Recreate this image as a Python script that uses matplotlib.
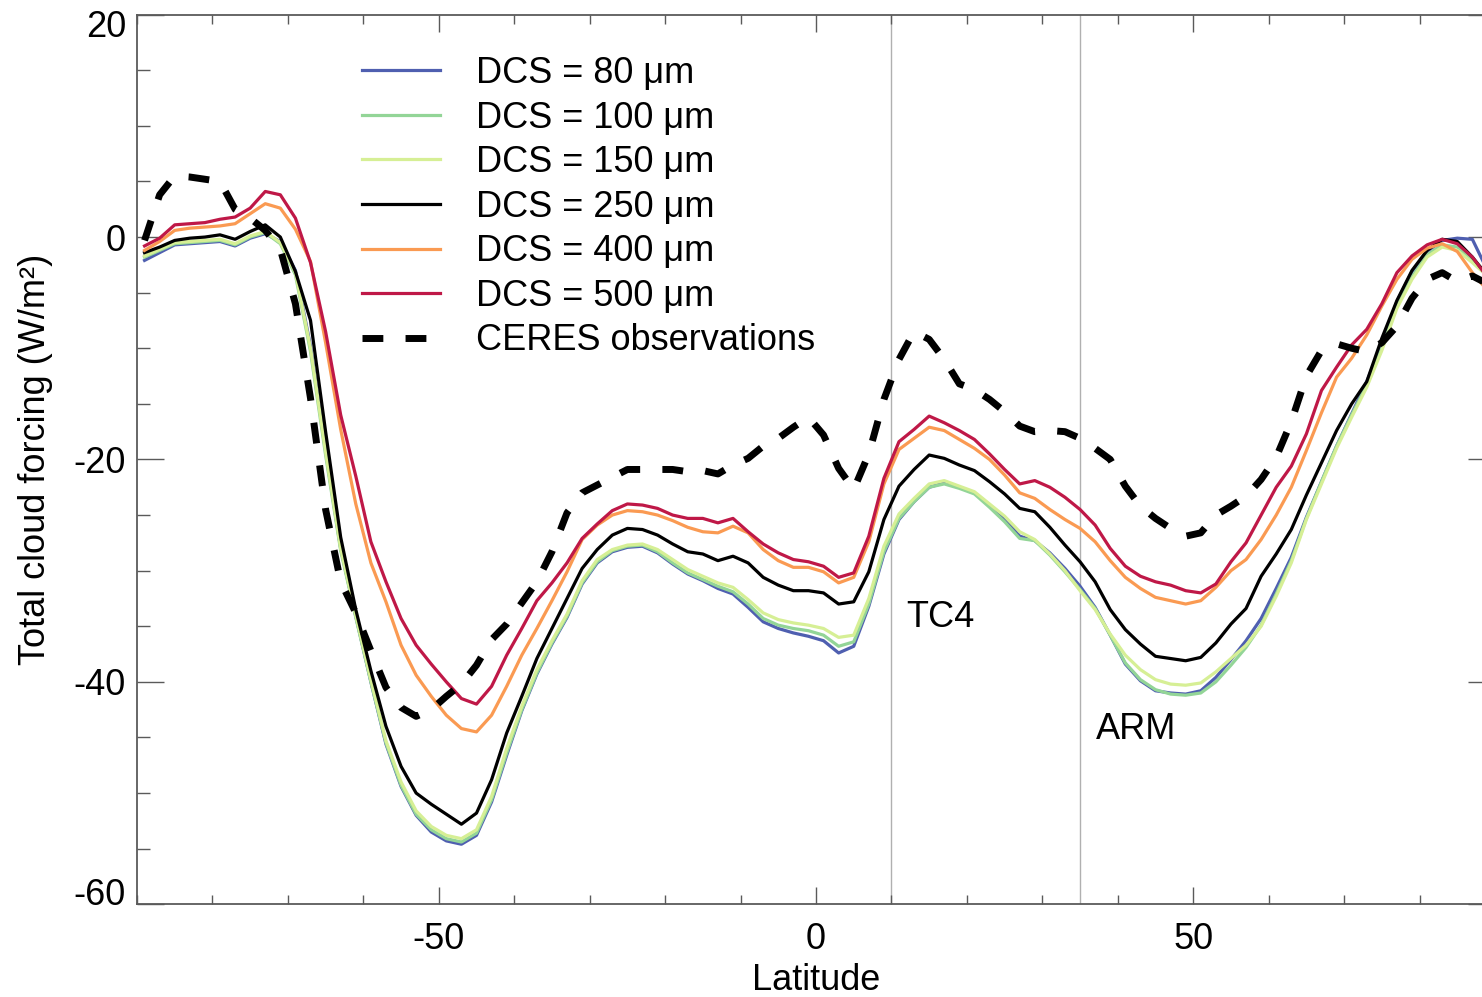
import numpy as np
import matplotlib
matplotlib.use('Agg')
import matplotlib.pyplot as plt
from matplotlib.ticker import MultipleLocator, FixedFormatter, FixedLocator

plt.rcParams['font.family'] = ['Liberation Sans', 'DejaVu Sans']
plt.rcParams['axes.unicode_minus'] = False

# latitude grid of the model output (2 degree steps)
lat = np.arange(-89, 90, 2)

dcs80 = [-2.1, -1.4, -0.7, -0.6, -0.5, -0.4, -0.8, -0.1, 0.3, -0.4,
         -3.0, -9.8, -19.2, -28.0, -34.1, -40.0, -45.6, -49.4, -52.0, -53.5,
         -54.3, -54.6, -53.8, -50.8, -46.6, -42.6, -39.3, -36.6, -34.2, -31.2,
         -29.3, -28.3, -27.9, -27.8, -28.4, -29.4, -30.3, -30.9, -31.6, -32.1,
         -33.3, -34.6, -35.2, -35.6, -35.9, -36.3, -37.4, -36.8, -33.2, -28.5,
         -25.4, -23.8, -22.5, -22.1, -22.5, -23.0, -24.1, -25.3, -26.9, -27.3,
         -28.4, -29.8, -31.4, -33.3, -35.8, -38.4, -39.9, -40.8, -41.0, -41.1,
         -40.8, -39.6, -38.0, -36.3, -34.3, -31.6, -28.8, -25.2, -22.0, -18.8,
         -15.9, -13.0, -9.6, -5.8, -3.1, -1.3, -0.3, -0.1, -0.2, -3.0]

dcs100 = [-1.8, -1.2, -0.6, -0.5, -0.4, -0.3, -0.7, 0.0, 0.4, -0.6,
          -3.4, -10.3, -19.6, -28.2, -34.2, -40.0, -45.5, -49.3, -51.9, -53.3,
          -54.1, -54.4, -53.6, -50.6, -46.4, -42.5, -39.2, -36.5, -34.1, -31.1,
          -29.2, -28.2, -27.8, -27.7, -28.3, -29.3, -30.2, -30.8, -31.4, -31.9,
          -33.0, -34.3, -34.9, -35.2, -35.4, -35.8, -36.8, -36.4, -33.0, -28.3,
          -25.3, -23.8, -22.5, -22.2, -22.6, -23.1, -24.3, -25.6, -27.1, -27.3,
          -28.6, -30.1, -31.7, -33.4, -35.8, -38.3, -39.8, -40.7, -41.1, -41.2,
          -41.0, -40.0, -38.5, -36.9, -34.9, -32.1, -29.1, -25.3, -22.0, -18.8,
          -16.0, -13.3, -10.0, -6.2, -3.6, -1.6, -0.7, -0.9, -2.0, -3.3]

dcs150 = [-1.7, -1.1, -0.5, -0.4, -0.3, -0.2, -0.6, 0.1, 0.5, -0.5,
          -3.2, -10.0, -19.3, -28.0, -34.0, -39.8, -45.3, -49.0, -51.6, -53.0,
          -53.8, -54.1, -53.3, -50.3, -46.0, -42.2, -38.9, -36.3, -33.9, -30.9,
          -29.0, -28.1, -27.7, -27.6, -28.1, -29.0, -29.9, -30.5, -31.1, -31.5,
          -32.6, -33.8, -34.4, -34.7, -34.9, -35.2, -36.0, -35.8, -32.5, -27.8,
          -24.9, -23.5, -22.2, -21.9, -22.4, -22.9, -24.0, -25.1, -26.5, -27.2,
          -28.5, -30.0, -31.8, -33.5, -35.7, -37.6, -38.9, -39.8, -40.2, -40.3,
          -40.1, -39.1, -37.9, -36.7, -35.0, -32.3, -29.3, -25.4, -22.2, -19.0,
          -16.2, -13.5, -10.2, -6.4, -3.8, -1.8, -0.9, -1.2, -2.3, -3.5]

dcs250 = [-1.4, -0.9, -0.3, -0.1, 0.0, 0.2, -0.2, 0.5, 1.1, 0.0,
          -3.1, -7.5, -17.5, -27.0, -33.5, -39.0, -44.0, -47.6, -50.0, -51.0,
          -51.9, -52.8, -51.8, -48.8, -44.6, -41.3, -37.9, -35.2, -32.5, -29.8,
          -28.1, -26.8, -26.2, -26.3, -26.8, -27.6, -28.3, -28.5, -29.1, -28.7,
          -29.3, -30.6, -31.3, -31.8, -31.8, -32.0, -33.0, -32.8, -30.1, -25.4,
          -22.4, -20.9, -19.6, -19.9, -20.5, -21.0, -22.0, -23.1, -24.4, -24.7,
          -26.1, -27.7, -29.2, -31.0, -33.5, -35.3, -36.6, -37.7, -37.9, -38.1,
          -37.8, -36.5, -34.8, -33.4, -30.5, -28.5, -26.3, -23.2, -20.3, -17.4,
          -15.0, -13.0, -9.1, -5.7, -3.0, -1.2, -0.2, -0.4, -1.8, -3.5]

dcs400 = [-1.2, -0.4, 0.6, 0.8, 0.9, 1.0, 1.2, 2.1, 3.0, 2.6,
          0.7, -2.2, -9.5, -17.3, -24.0, -29.3, -32.8, -36.7, -39.4, -41.3,
          -43.0, -44.2, -44.5, -43.0, -40.4, -37.6, -35.2, -32.7, -30.1, -27.2,
          -25.9, -25.0, -24.6, -24.7, -25.0, -25.5, -26.1, -26.5, -26.6, -26.0,
          -26.6, -28.1, -29.1, -29.7, -29.7, -30.1, -31.1, -30.6, -27.4, -22.2,
          -19.1, -18.1, -17.1, -17.4, -18.2, -19.0, -20.0, -21.4, -23.0, -23.5,
          -24.5, -25.4, -26.2, -27.4, -29.1, -30.6, -31.6, -32.4, -32.7, -33.0,
          -32.7, -31.5, -30.0, -29.0, -27.2, -25.0, -22.5, -19.2, -15.8, -12.6,
          -10.9, -8.8, -6.2, -3.8, -2.0, -1.0, -0.6, -1.3, -3.2, -4.8]

dcs500 = [-0.8, -0.1, 1.1, 1.2, 1.3, 1.6, 1.8, 2.6, 4.1, 3.8,
          1.7, -2.3, -8.5, -16.0, -21.5, -27.4, -31.0, -34.3, -36.7, -38.4,
          -40.0, -41.5, -42.0, -40.4, -37.6, -35.2, -32.7, -31.1, -29.3, -27.1,
          -25.8, -24.6, -24.0, -24.1, -24.4, -25.0, -25.3, -25.3, -25.7, -25.3,
          -26.5, -27.6, -28.4, -29.0, -29.2, -29.6, -30.6, -30.2, -26.9, -21.7,
          -18.4, -17.3, -16.1, -16.7, -17.4, -18.2, -19.5, -20.9, -22.2, -21.9,
          -22.5, -23.4, -24.5, -25.9, -28.0, -29.6, -30.5, -31.0, -31.3, -31.8,
          -32.0, -31.2, -29.2, -27.5, -25.0, -22.5, -20.6, -17.7, -13.8, -11.7,
          -9.7, -8.3, -6.0, -3.2, -1.7, -0.7, -0.2, -0.6, -1.8, -3.6]

ceres = [-0.3, 3.8, 5.5, 5.4, 5.2, 5.0, 2.5, 1.7, 0.6, -1.1,
         -6.0, -14.5, -24.5, -31.0, -33.8, -37.2, -40.5, -42.3, -43.1, -42.5,
         -41.3, -40.2, -38.5, -36.2, -34.8, -32.9, -31.0, -28.3, -24.8, -23.0,
         -22.3, -21.6, -20.9, -20.9, -20.9, -20.9, -21.1, -21.0, -21.3, -20.5,
         -19.9, -18.8, -18.1, -17.1, -16.2, -17.8, -20.8, -22.7, -19.5, -14.6,
         -11.0, -8.5, -9.2, -11.0, -13.2, -13.7, -14.6, -15.7, -17.0, -17.5,
         -17.4, -17.5, -18.1, -19.0, -20.0, -22.4, -24.2, -25.3, -26.2, -26.9,
         -26.6, -25.0, -24.2, -23.3, -21.8, -19.8, -16.6, -12.5, -10.2, -9.6,
         -10.0, -10.3, -9.5, -8.0, -5.5, -3.8, -3.2, -4.0, -3.5, -4.2]

labels = ['DCS = 80 \u03bcm', 'DCS = 100 \u03bcm', 'DCS = 150 \u03bcm',
          'DCS = 250 \u03bcm', 'DCS = 400 \u03bcm', 'DCS = 500 \u03bcm']
colors = ['#4f5fb0', '#93d597', '#d6ef95', '#000000', '#fa9a52', '#bf1847']

yticks = [-60, -40, -20, 0, 20]
xticks = [-50, 0, 50]

# site latitudes marked with vertical lines
sites = {'TC4': 10, 'ARM': 35}

fig = plt.figure(figsize=(14.82, 9.97), dpi=100)
ax = fig.add_axes([137/1482, 0.0930, 1358/1482, 0.8923])

ax.axvline(sites['TC4'], color='#b0b0b0', lw=1.0, zorder=1)
ax.axvline(sites['ARM'], color='#b0b0b0', lw=1.0, zorder=1)

for vals, lab, col in zip([dcs80, dcs100, dcs150, dcs250, dcs400, dcs500], labels, colors):
    ax.plot(lat, vals, color=col, lw=2.3, label=lab, zorder=2)
ax.plot(lat, ceres, color='black', lw=5, dashes=(3, 3.2), dash_capstyle='butt',
        label='CERES observations', zorder=3)

ax.text(12, -35.1, 'TC4', fontsize=26, ha='left', va='baseline')
ax.text(37.1, -45.1, 'ARM', fontsize=26, ha='left', va='baseline')

ax.set_xlim(-90, 90)
ax.set_ylim(-60, 20)
ax.xaxis.set_major_locator(FixedLocator(xticks))
ax.xaxis.set_minor_locator(MultipleLocator(10))
ax.yaxis.set_major_locator(FixedLocator(yticks))
ax.yaxis.set_minor_locator(MultipleLocator(5))
# end labels of the y axis sit inside the axis range, drawn by hand below
ax.yaxis.set_major_formatter(FixedFormatter(['', '-40', '-20', '0', '']))

tc = '#5a5a5a'
ax.tick_params(axis='x', which='major', direction='in', length=12.5, width=1.0,
               top=True, bottom=True, labelsize=26, pad=13, color=tc)
ax.tick_params(axis='x', which='minor', direction='in', length=6.5, width=1.0,
               top=True, bottom=True, color=tc)
ax.tick_params(axis='y', which='major', direction='in', length=19.5, width=1.0,
               left=True, right=True, labelsize=26, pad=8, color=tc)
ax.tick_params(axis='y', which='minor', direction='in', length=9.7, width=1.0,
               left=True, right=True, color=tc)
for s in ax.spines.values():
    s.set_color(tc)
    s.set_linewidth(1.3)

for val, dy in [(yticks[-1], -9.5), (yticks[0], 6.5)]:
    ax.annotate(str(val), xy=(0, val), xycoords=('axes fraction', 'data'),
                xytext=(-8, dy), textcoords='offset points',
                ha='right', va='center', fontsize=26)

ax.set_xlabel('Latitude', fontsize=26, labelpad=4)
ax.set_ylabel('Total cloud forcing (W/m\u00b2)', fontsize=26, labelpad=15)

leg = ax.legend(loc='upper left', bbox_to_anchor=(362/1482, 1 - 56/997),
                bbox_transform=fig.transFigure, frameon=False, fontsize=26,
                handlelength=2.17, handletextpad=1.0, labelspacing=0.265,
                borderpad=0, borderaxespad=0)

fig.savefig('out.png', dpi=100)
